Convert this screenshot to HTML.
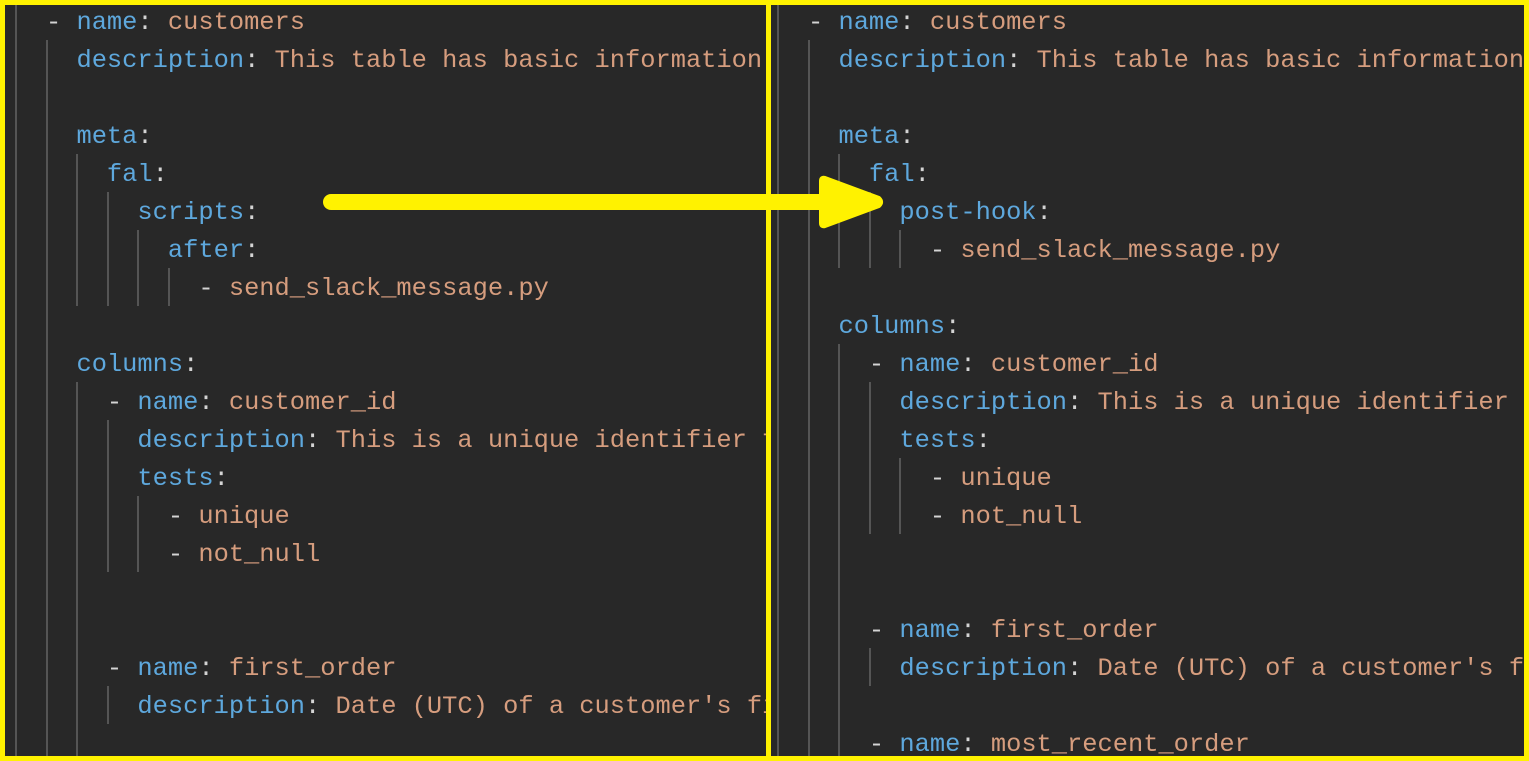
<!DOCTYPE html>
<html><head><meta charset="utf-8"><style>
html,body{margin:0;padding:0}
body{width:1529px;height:761px;background:#282828;position:relative;overflow:hidden;font-family:"Liberation Mono","DejaVu Sans Mono",monospace;font-size:25.4px}
.p{position:absolute;top:0;height:761px;overflow:hidden}
.l{position:absolute;white-space:pre;line-height:38px;height:38px;color:#d4d4d4}
.k{color:#5ea8dd}.s{color:#d69d7e}
.g{position:absolute;width:1.5px;background:#555}
</style></head><body>
<div class="p" style="left:0;width:768px">
<div class="g" style="left:15px;top:0;height:761px"></div>
<div class="g" style="left:46px;top:40px;height:721px"></div>
<div class="g" style="left:76px;top:154px;height:152px"></div>
<div class="g" style="left:107px;top:192px;height:114px"></div>
<div class="g" style="left:137px;top:230px;height:76px"></div>
<div class="g" style="left:168px;top:268px;height:38px"></div>
<div class="g" style="left:76px;top:382px;height:379px"></div>
<div class="g" style="left:107px;top:420px;height:152px"></div>
<div class="g" style="left:137px;top:496px;height:76px"></div>
<div class="g" style="left:107px;top:686px;height:38px"></div>
<div style="position:absolute;left:15.5px;top:2px">
<div class="l" style="top:2px">  - <span class="k">name</span>: <span class="s">customers</span></div>
<div class="l" style="top:40px">    <span class="k">description</span>: <span class="s">This table has basic information about a customer</span></div>
<div class="l" style="top:116px">    <span class="k">meta</span>:</div>
<div class="l" style="top:154px">      <span class="k">fal</span>:</div>
<div class="l" style="top:192px">        <span class="k">scripts</span>:</div>
<div class="l" style="top:230px">          <span class="k">after</span>:</div>
<div class="l" style="top:268px">            - <span class="s">send_slack_message.py</span></div>
<div class="l" style="top:344px">    <span class="k">columns</span>:</div>
<div class="l" style="top:382px">      - <span class="k">name</span>: <span class="s">customer_id</span></div>
<div class="l" style="top:420px">        <span class="k">description</span>: <span class="s">This is a unique identifier for a customer</span></div>
<div class="l" style="top:458px">        <span class="k">tests</span>:</div>
<div class="l" style="top:496px">          - <span class="s">unique</span></div>
<div class="l" style="top:534px">          - <span class="s">not_null</span></div>
<div class="l" style="top:648px">      - <span class="k">name</span>: <span class="s">first_order</span></div>
<div class="l" style="top:686px">        <span class="k">description</span>: <span class="s">Date (UTC) of a customer's first order</span></div>
</div></div>
<div class="p" style="left:771px;width:758px">
<div style="position:absolute;left:-771px;top:0;width:1529px;height:761px">
<div class="g" style="left:777px;top:0;height:761px"></div>
<div class="g" style="left:808px;top:40px;height:721px"></div>
<div class="g" style="left:838px;top:154px;height:114px"></div>
<div class="g" style="left:869px;top:192px;height:76px"></div>
<div class="g" style="left:899px;top:230px;height:38px"></div>
<div class="g" style="left:838px;top:344px;height:417px"></div>
<div class="g" style="left:869px;top:382px;height:152px"></div>
<div class="g" style="left:899px;top:458px;height:76px"></div>
<div class="g" style="left:869px;top:648px;height:38px"></div>
<div style="position:absolute;left:777.5px;top:2px">
<div class="l" style="top:2px">  - <span class="k">name</span>: <span class="s">customers</span></div>
<div class="l" style="top:40px">    <span class="k">description</span>: <span class="s">This table has basic information about a customer</span></div>
<div class="l" style="top:116px">    <span class="k">meta</span>:</div>
<div class="l" style="top:154px">      <span class="k">fal</span>:</div>
<div class="l" style="top:192px">        <span class="k">post-hook</span>:</div>
<div class="l" style="top:230px">          - <span class="s">send_slack_message.py</span></div>
<div class="l" style="top:306px">    <span class="k">columns</span>:</div>
<div class="l" style="top:344px">      - <span class="k">name</span>: <span class="s">customer_id</span></div>
<div class="l" style="top:382px">        <span class="k">description</span>: <span class="s">This is a unique identifier for a customer</span></div>
<div class="l" style="top:420px">        <span class="k">tests</span>:</div>
<div class="l" style="top:458px">          - <span class="s">unique</span></div>
<div class="l" style="top:496px">          - <span class="s">not_null</span></div>
<div class="l" style="top:610px">      - <span class="k">name</span>: <span class="s">first_order</span></div>
<div class="l" style="top:648px">        <span class="k">description</span>: <span class="s">Date (UTC) of a customer's first order</span></div>
<div class="l" style="top:724px">      - <span class="k">name</span>: <span class="s">most_recent_order</span></div>
</div></div></div>
<svg width="1529" height="761" style="position:absolute;left:0;top:0">
<rect x="2.5" y="2.5" width="1524" height="756" fill="none" stroke="#fff200" stroke-width="5"/>
<rect x="766" y="0" width="5" height="761" fill="#fff200"/>
<line x1="331" y1="202" x2="826" y2="202" stroke="#fff200" stroke-width="16" stroke-linecap="round"/>
<path d="M825 178 L879 198 Q883 202 879 206 L825 226 Q821 227 821 223 L821 181 Q821 177 825 178 Z" fill="#fff200" stroke="#fff200" stroke-width="4" stroke-linejoin="round"/>
</svg>
</body></html>
